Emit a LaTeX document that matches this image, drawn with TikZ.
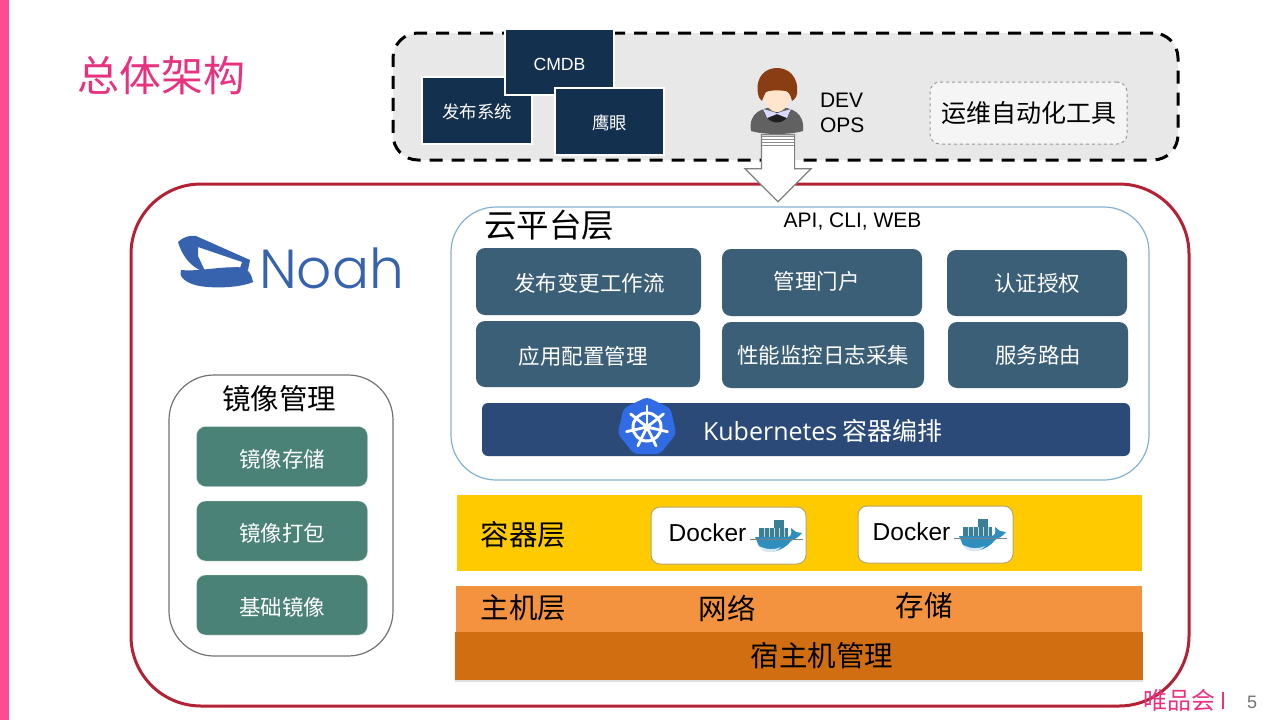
\documentclass[tikz,border=0pt]{standalone}
\usepackage{fontspec}
\setmainfont{Liberation Sans}
\newfontfamily\cjk{Noto Sans CJK SC}
\newfontfamily\kubefont{Open Sans}
\newfontfamily\noahfont{Poppins Light}
\usepackage{tikz}
\usetikzlibrary{arrows.meta, positioning, shapes.arrows, shapes.geometric, shadows}

\definecolor{pinkbar}{HTML}{FF4B8F}
\definecolor{titlepink}{HTML}{E9327F}
\definecolor{navybox}{HTML}{14304F}
\definecolor{slatebox}{HTML}{3C5F78}
\definecolor{kubebar}{HTML}{2B4A78}
\definecolor{greenbox}{HTML}{4A8277}
\definecolor{noahblue}{HTML}{3763AE}
\definecolor{whaleblue}{HTML}{2E8FBF}
\definecolor{cargoblue}{HTML}{3B7F94}
\definecolor{framered}{HTML}{B22234}
\definecolor{cloudline}{HTML}{85B2D0}
\definecolor{kubeblue}{HTML}{326CE5}
\definecolor{bandyellow}{HTML}{FFCB00}
\definecolor{bandorange}{HTML}{F3933F}
\definecolor{darkorange}{HTML}{D26E12}
\definecolor{hairbrown}{HTML}{8A3D12}
\definecolor{dockeredge}{HTML}{B9A36B}

\tikzset{
    whale/.pic={
        \fill[cargoblue] (-18,-8) rectangle (11,1);
        \fill[cargoblue] (-3,-16) rectangle (7,-8);
        \foreach \x in {-13,-8,-3,2,7}
            \draw[white!70!cargoblue, line width=.4pt] (\x,-8) -- (\x,1);
        \fill[whaleblue] (-22,1) -- (10,1) .. controls (14,1) and (15,-2) .. (14,-8)
            -- (19,-4) -- (25,-3) .. controls (22,1) and (18,3) .. (14,5)
            .. controls (6,16) and (-12,20) .. (-18,10) -- cycle;
        \fill[white!80!whaleblue] (-18,10) .. controls (-10,14) and (-2,14) .. (4,11)
            .. controls (-2,18) and (-14,18) .. (-18,10) -- cycle;
        \draw[gray, line width=.5pt] (-27,3) -- (26,3);
    }
}

\begin{document}
\begin{tikzpicture}[
    x=1pt, y=-1pt,
    every node/.style={font=\cjk, outer sep=0pt, inner sep=0pt, align=center},
    navy/.style={draw=white, line width=2pt, fill=navybox, text=white, text height=17.5pt, font=\cjk\fontsize{17.4}{20}\selectfont},
    slate/.style={rounded corners=9pt, fill=slatebox, text=white, font=\cjk\fontsize{21.5}{25}\selectfont},
    mirror/.style={rounded corners=9pt, draw=white!80!greenbox, fill=greenbox, text=white, text height=23pt, font=\cjk\fontsize{21.5}{25}\selectfont},
    layerlabel/.style={text=black, font=\cjk\fontsize{28.5}{32}\selectfont},
    dockerbox/.style={rounded corners=9pt, draw=dockeredge, line width=1pt, fill=white, minimum width=155pt, minimum height=57pt},
    dockertext/.style={font=\fontsize{24.5}{28}\selectfont}
]
\useasboundingbox (0,0) rectangle (1280,720);
\fill[white] (0,0) rectangle (1280,720);

\node[fill=pinkbar, minimum width=9pt, minimum height=720pt] (sidebar) at (4.5,360) {};
\node[text=titlepink, font=\cjk\fontsize{42}{46}\selectfont] (title) at (161,75.5) {总体架构};

% outer frame
\node[draw=framered, line width=3pt, rounded corners=70pt, minimum width=1058pt, minimum height=522pt] (noahframe) at (660,445) {};

% ops tools
\node[draw=black, dash pattern=on 13pt off 9pt, line width=3pt, fill=black!9, rounded corners=25pt, minimum width=785pt, minimum height=127pt] (opsframe) at (785.5,96.5) {};
\node[navy, minimum width=110pt, minimum height=67pt] (release) at (477,110.5) {发布系统};
\node[navy, minimum width=109pt, minimum height=66pt, text height=16.6pt, font=\fontsize{17.6}{20}\selectfont] (cmdb) at (559.5,62) {CMDB};
\node[navy, minimum width=109pt, minimum height=67pt] (eagle) at (609.5,121.5) {鹰眼};
\node[draw=black!40, dashed, line width=1pt, fill=black!4, rounded corners=10pt, minimum width=197pt, minimum height=62pt, font=\cjk\fontsize{25}{30}\selectfont] (autotools) at (1028.5,113) {运维自动化工具};
\node[anchor=west, align=left, font=\fontsize{21}{25}\selectfont] (devops) at (820,113) {DEV\\OPS};

% person
\fill[black!62] (751,131) .. controls (748,113) and (762,107) .. (777,107) .. controls (792,107) and (805,113) .. (803,131) .. controls (790,135) and (764,135) .. (751,131) -- cycle;
\fill[black!88] (764,112) .. controls (768,126) and (786,126) .. (790,112) -- cycle;
\fill[blue!15!white] (763,109) -- (777,113) -- (791,109) -- (787,118) -- (777,114) -- (767,118) -- cycle;
\fill[orange!20!white] (763,88) .. controls (763,120) and (791,120) .. (791,88) -- cycle;
\fill[hairbrown] (758,94) .. controls (755,76) and (766,68) .. (777,68) .. controls (788,68) and (799,76) .. (797,94) .. controls (796,98) and (794,100) .. (792,101) .. controls (791,96) and (789,92) .. (786,91) .. controls (778,90) and (770,90) .. (766,92) .. controls (764,95) and (763,98) .. (762,101) .. controls (760,99) and (758,97) .. (758,94) -- cycle;

% cloud layer
\node[draw=cloudline, line width=1.2pt, rounded corners=45pt, minimum width=698pt, minimum height=273pt] (cloudframe) at (800,343.5) {};
\node[layerlabel, font=\cjk\fontsize{32.5}{36}\selectfont] (cloudlabel) at (549,225) {云平台层};
\node[font=\fontsize{21}{24}\selectfont] (api) at (852.5,222) {API, CLI, WEB};
\node[slate, minimum width=225pt, minimum height=67pt, text height=21pt] (workflow) at (588.5,281.5) {\hspace*{2pt}发布变更工作流};
\node[slate, minimum width=200pt, minimum height=67pt, text depth=4.5pt] (portal) at (822,282.5) {\kern-11pt 管理门户};
\node[slate, minimum width=180pt, minimum height=66pt] (auth) at (1037,283) {认证授权};
\node[slate, minimum width=224pt, minimum height=66pt, text height=23pt] (config) at (588,354) {\kern-10pt 应用配置管理};
\node[slate, minimum width=202pt, minimum height=66pt] (monitor) at (823,355) {性能监控日志采集};
\node[slate, minimum width=180pt, minimum height=66pt] (routing) at (1038,355) {服务路由};
\node[rounded corners=6pt, fill=kubebar, minimum width=648pt, minimum height=53pt] (kubebox) at (806,429.5) {};
\node[text=white, anchor=west, font=\cjk\fontsize{25}{28}\selectfont] (kubelabel) at (703,431) {{\kubefont Kubernetes} 容器编排};

% kubernetes wheel
\node[regular polygon, regular polygon sides=7, fill=kubeblue, rounded corners=4pt, minimum size=60pt] (kubeicon) at (647,427) {};
\draw[white, line width=3pt] (kubeicon.center) circle (14pt);
\foreach \a in {90,141.4,...,400}
    \draw[white, line width=2.8pt, line cap=round] (kubeicon.center) -- ++(\a:21pt);
\fill[white] (kubeicon.center) circle (4pt);

% image management
\node[draw=black!55, line width=1.2pt, rounded corners=45pt, minimum width=224pt, minimum height=281pt] (mirrorframe) at (281,515.5) {};
\node[layerlabel] (mirrorlabel) at (279,399) {镜像管理};
\node[mirror, minimum width=171pt, minimum height=60pt] (mirrorstore) at (282,456.5) {镜像存储};
\node[mirror, minimum width=171pt, minimum height=60pt] (mirrorpack) at (282,531) {镜像打包};
\node[mirror, minimum width=171pt, minimum height=60pt] (mirrorbase) at (282,605) {基础镜像};

% container layer
\node[fill=bandyellow, minimum width=685pt, minimum height=76pt] (containerband) at (799.5,533) {};
\node[layerlabel] (containerlabel) at (523.5,535) {容器层};
\node[dockerbox] (dockerone) at (728.5,535.5) {};
\node[dockerbox] (dockertwo) at (935.5,534.5) {};
\node[dockertext] (dockeronetext) at (707.5,533) {Docker};
\node[dockertext] (dockertwotext) at (911.5,532) {Docker};
\pic at (777,536) {whale};
\pic at (981,535) {whale};

% host layer
\node[fill=bandorange, minimum width=686pt, minimum height=49pt, drop shadow={opacity=.2, shadow xshift=0pt, shadow yshift=-1pt}] (hostband) at (799,610.5) {};
\node[layerlabel] (hostlabel) at (523.5,608) {主机层};
\node[layerlabel] (network) at (727,608) {网络};
\node[layerlabel] (storage) at (924,606) {存储};
\node[fill=darkorange, minimum width=688pt, minimum height=48pt, drop shadow={opacity=.25, shadow xshift=0pt, shadow yshift=-2pt}] (hostmgmt) at (799,656) {};
\node[layerlabel] (hostmgmtlabel) at (822,656) {宿主机管理};

% down arrow
\node[single arrow, draw=black!50, line width=1.2pt, fill=white, shape border rotate=270, inner sep=16pt, single arrow head extend=16.5pt, single arrow tip angle=90, minimum height=67pt] (opsarrow) at (778,160) {};
\foreach \y in {136.5,139.5,142.5,145.5}
    \draw[black!45, line width=.8pt] (762,\y) -- (794,\y);

% noah logo
\path[fill=noahblue, even odd rule] (178,242) .. controls (183,237) and (190,235) .. (196,236) -- (250,260) -- (248,270) -- (240,268) -- (242,262) -- (198,247) -- (198,256) -- (205,271) -- (238,267) -- (240,268) -- (205,272) .. controls (192,268) and (183,258) .. (178,242) -- cycle;
\fill[noahblue] (181,270) .. controls (200,272) and (225,265) .. (245,268) .. controls (250,272) and (252,276) .. (253,282) .. controls (240,288) and (210,289) .. (195,285) .. controls (185,282) and (178,276) .. (181,270) -- cycle;
\node[text=noahblue, anchor=west, font=\noahfont\fontsize{55}{60}\selectfont] (noahname) at (259,268) {Noah};

% footer
\node[text=titlepink, font=\cjk\fontsize{24}{28}\selectfont] (brand) at (1179,700) {唯品会};
\node[fill=titlepink, minimum width=1.5pt, minimum height=17pt] (brandbar) at (1223,700) {};
\node[text=black!55, font=\fontsize{18}{22}\selectfont] (pagenum) at (1252,702) {5};

\end{tikzpicture}
\end{document}
